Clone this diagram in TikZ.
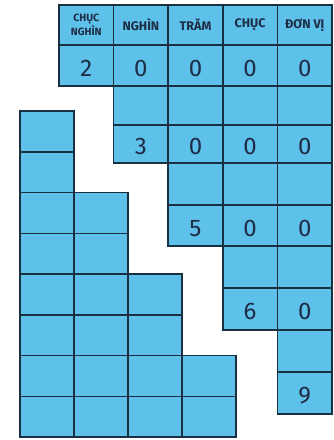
\documentclass[tikz,border=0pt]{standalone}
\usepackage{fontspec}
\setmainfont{Fira Sans}
\definecolor{cellblue}{HTML}{5EC1EA}
\definecolor{gridline}{HTML}{18303F}
\definecolor{inkblue}{HTML}{1E2D45}

\begin{document}
\begin{tikzpicture}[x=1pt, y=-1pt,
    cell/.style={draw=gridline, fill=cellblue, line width=1.5pt, inner sep=0pt,
      outer sep=0pt, anchor=north west, text=inkblue, minimum width=54.6pt},
    digit/.style={cell, minimum height=#1, text height=21pt, text depth=0pt,
      font=\fontsize{24}{24}\selectfont},
    head/.style={cell, minimum height=40pt, align=center,
      font=\fontsize{12.5}{13}\selectfont\bfseries}]
    \useasboundingbox (0,0) rectangle (333,440);

    % Place-value table: header row
    \node[head, font=\fontsize{10.5}{12.5}\selectfont\bfseries] (h1) at (59,5) {CHỤC\\NGHÌN};
    \foreach \name [count=\c from 2] in {NGHÌN, TRĂM, CHỤC, ĐƠN VỊ}
        \node[head] (h\c) at ({59+54.6*(\c-1)}, 5) {\name};

    % Place-value table: stepped rows
    \foreach \r/\ytop/\h/\first/\digits in {
        1/45/41/1/{2,0,0,0,0},
        2/86/39/2/{{},{},{},{}},
        3/125/38/2/{3,0,0,0},
        4/163/42/3/{{},{},{}},
        5/205/41/3/{5,0,0},
        6/246/42/4/{{},{}},
        7/288/42/4/{6,0},
        8/330/42/5/{{}},
        9/372/42/5/{9}}
        \foreach \d [count=\c from \first] in \digits
            \node[digit=\h pt] (r\r c\c) at ({59+54.6*(\c-1)}, \ytop) {\d};

    % Staircase of squares on the left
    \foreach \r in {1,...,8} {
        \pgfmathtruncatemacro{\n}{(\r+1)/2}
        \foreach \c in {1,...,\n}
            \node[cell, minimum width=54pt, minimum height=40.75pt] (l\r c\c)
                at ({20+54*(\c-1)}, {111+40.75*(\r-1)}) {};
    }
\end{tikzpicture}
\end{document}
